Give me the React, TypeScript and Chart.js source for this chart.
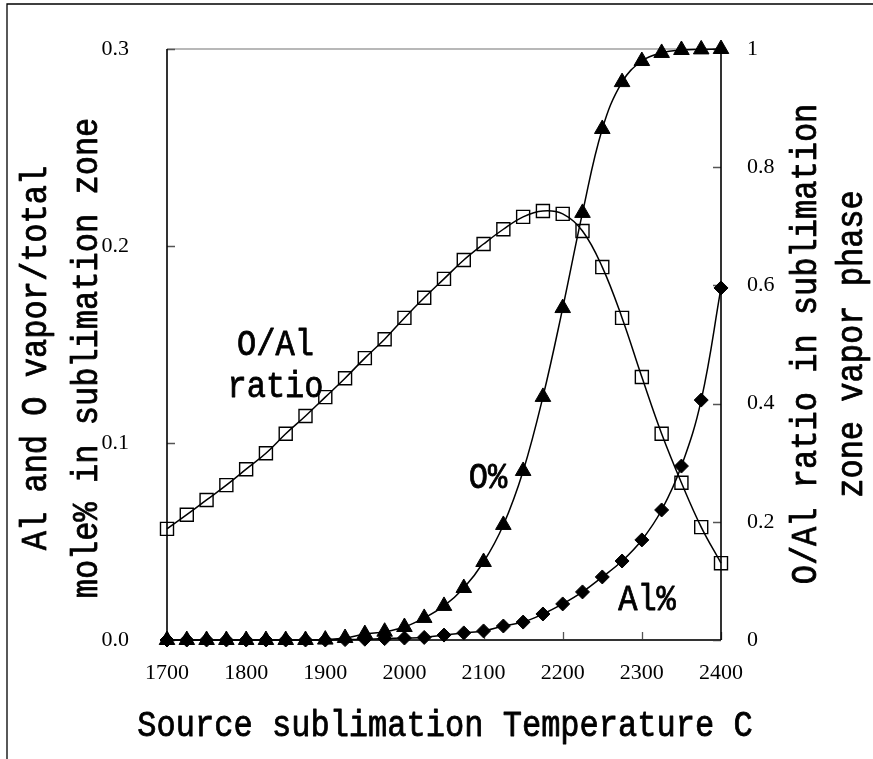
import React, { useEffect, useRef } from "react";
import { Chart, registerables } from "chart.js";

Chart.register(...registerables);

const temperatures = [
  1700, 1725, 1750, 1775, 1800, 1825, 1850, 1875, 1900, 1925, 1950, 1975, 2000, 2025, 2050,
  2075, 2100, 2125, 2150, 2175, 2200, 2225, 2250, 2275, 2300, 2325, 2350, 2375, 2400,
];
// O/Al ratio (right axis)
const oAlRatio = [
  0.188, 0.212, 0.237, 0.262, 0.289, 0.316, 0.349, 0.379, 0.411, 0.443, 0.477, 0.509, 0.545,
  0.579, 0.611, 0.643, 0.67, 0.695, 0.716, 0.726, 0.721, 0.692, 0.631, 0.545, 0.445, 0.349,
  0.266, 0.191, 0.13,
];
// O mole fraction (left axis)
const oPercent = [
  0, 0, 0, 0, 0, 0, 0, 0, 0.0002, 0.001, 0.003, 0.0042, 0.0066, 0.0112, 0.0173, 0.0264, 0.0396,
  0.0584, 0.0858, 0.1234, 0.1685, 0.2168, 0.2594, 0.2832, 0.2939, 0.298, 0.2995, 0.2998, 0.3,
];
// Al mole fraction (left axis)
const alPercent = [
  0, 0, 0, 0, 0, 0, 0, 0, 0, 0.0002, 0.0004, 0.0007, 0.001, 0.0013, 0.0025, 0.0036, 0.0046,
  0.0071, 0.0091, 0.0132, 0.0183, 0.0244, 0.032, 0.0401, 0.0508, 0.066, 0.0883, 0.1218, 0.1787,
];

const xTicks = [1700, 1800, 1900, 2000, 2100, 2200, 2300, 2400];
const leftTicks = [0, 0.1, 0.2, 0.3];
const rightTicks = [0, 0.2, 0.4, 0.6, 0.8, 1];

const xTitle = "Source sublimation Temperature C";
const leftTitle = ["Al and O vapor/total", "mole% in sublimation zone"];
const rightTitle = ["O/Al ratio in sublimation", "zone vapor phase"];
const ratioLabel = ["O/Al", "ratio"];
const oLabel = "O%";
const alLabel = "Al%";

const W = 873;
const H = 759;
const TITLE_FONT = '"Liberation Mono", monospace';
const TITLE_SIZE = 36;
const TITLE_SX = 0.89;

function drawText(
  ctx: CanvasRenderingContext2D,
  text: string,
  x: number,
  y: number,
  rotate: boolean
) {
  ctx.save();
  ctx.translate(x, y);
  if (rotate) ctx.rotate(-Math.PI / 2);
  ctx.scale(TITLE_SX, 1);
  ctx.font = `${TITLE_SIZE}px ${TITLE_FONT}`;
  ctx.textAlign = "center";
  ctx.textBaseline = "alphabetic";
  ctx.fillStyle = "#000";
  ctx.strokeStyle = "#000";
  ctx.lineWidth = 0.8;
  ctx.lineJoin = "round";
  ctx.fillText(text, 0, 0);
  ctx.strokeText(text, 0, 0);
  ctx.restore();
}

const framePlugin = {
  id: "frame",
  beforeDatasetsDraw(chart: any) {
    const { ctx, chartArea: a, scales } = chart;
    ctx.save();
    // outer picture border (left and top)
    ctx.strokeStyle = "#000";
    ctx.lineWidth = 1.3;
    ctx.beginPath();
    ctx.moveTo(7, H);
    ctx.lineTo(7, 4);
    ctx.lineTo(W, 4);
    ctx.stroke();

    // top of plot area (grey)
    ctx.strokeStyle = "#a0a0a0";
    ctx.lineWidth = 1.5;
    ctx.beginPath();
    ctx.moveTo(a.left, a.top);
    ctx.lineTo(a.right, a.top);
    ctx.stroke();

    // tick marks, inside
    ctx.strokeStyle = "#555";
    ctx.lineWidth = 1.3;
    ctx.beginPath();
    leftTicks.forEach((v) => {
      const y = Math.round(scales.y.getPixelForValue(v)) + 0.5;
      ctx.moveTo(a.left, y);
      ctx.lineTo(a.left + 8, y);
    });
    rightTicks.forEach((v) => {
      const y = Math.round(scales.y1.getPixelForValue(v)) + 0.5;
      ctx.moveTo(a.right, y);
      ctx.lineTo(a.right - 8, y);
    });
    xTicks.forEach((v) => {
      const x = Math.round(scales.x.getPixelForValue(v)) + 0.5;
      ctx.moveTo(x, a.bottom);
      ctx.lineTo(x, a.bottom - 8);
    });
    ctx.stroke();

    // axes
    ctx.strokeStyle = "#333";
    ctx.lineWidth = 2;
    ctx.beginPath();
    ctx.moveTo(a.left, a.bottom);
    ctx.lineTo(a.right, a.bottom);
    ctx.stroke();
    ctx.strokeStyle = "#000";
    ctx.lineWidth = 1.6;
    ctx.beginPath();
    ctx.moveTo(a.left, a.top);
    ctx.lineTo(a.left, a.bottom);
    ctx.moveTo(a.right, a.top);
    ctx.lineTo(a.right, a.bottom);
    ctx.stroke();
    ctx.restore();
  },
  afterDraw(chart: any) {
    const { ctx } = chart;
    drawText(ctx, xTitle, 445, 736, false);
    drawText(ctx, leftTitle[0], 46, 358, true);
    drawText(ctx, leftTitle[1], 97, 358, true);
    drawText(ctx, rightTitle[0], 816, 344, true);
    drawText(ctx, rightTitle[1], 862, 344, true);
    drawText(ctx, ratioLabel[0], 275.5, 355, false);
    drawText(ctx, ratioLabel[1], 275.5, 397, false);
    drawText(ctx, oLabel, 488, 488, false);
    drawText(ctx, alLabel, 647, 610, false);
  },
};

export default function App() {
  const ref = useRef<HTMLCanvasElement | null>(null);

  useEffect(() => {
    if (!ref.current) return;
    const tickFont = { family: '"Liberation Serif", serif', size: 22 };
    const chart = new Chart(ref.current, {
      type: "line",
      data: {
        datasets: [
          {
            label: "O/Al ratio",
            data: temperatures.map((t, i) => ({ x: t, y: oAlRatio[i] })),
            yAxisID: "y1",
            borderColor: "#000",
            borderWidth: 1.5,
            tension: 0.4,
            pointStyle: "rect",
            pointRadius: 9.2,
            pointBackgroundColor: "rgba(0,0,0,0)",
            pointBorderColor: "#000",
            pointBorderWidth: 1.4,
            clip: false,
          },
          {
            label: "O%",
            data: temperatures.map((t, i) => ({ x: t, y: oPercent[i] })),
            yAxisID: "y",
            borderColor: "#000",
            borderWidth: 1.5,
            tension: 0.4,
            pointStyle: "triangle",
            pointRadius: 9,
            pointBackgroundColor: "#000",
            pointBorderColor: "#000",
            pointBorderWidth: 1,
            clip: false,
          },
          {
            label: "Al%",
            data: temperatures.map((t, i) => ({ x: t, y: alPercent[i] })),
            yAxisID: "y",
            borderColor: "#000",
            borderWidth: 1.5,
            tension: 0.4,
            pointStyle: "rectRot",
            pointRadius: 7,
            pointBackgroundColor: "#000",
            pointBorderColor: "#000",
            pointBorderWidth: 1,
            clip: false,
          },
        ],
      },
      options: {
        animation: false,
        responsive: false,
        devicePixelRatio: 1,
        layout: { padding: { top: 49, left: 0, right: 0, bottom: 0 } },
        plugins: { legend: { display: false }, tooltip: { enabled: false } },
        events: [],
        scales: {
          x: {
            type: "linear",
            min: 1700,
            max: 2400,
            grid: { display: false },
            border: { display: false },
            afterBuildTicks: (s: any) => {
              s.ticks = xTicks.map((v) => ({ value: v }));
            },
            afterFit: (s: any) => {
              s.height = H - 640;
            },
            ticks: {
              font: tickFont,
              color: "#000",
              padding: 12,
              maxRotation: 0,
              autoSkip: false,
              callback: (v: any) => String(v),
            },
          },
          y: {
            type: "linear",
            position: "left",
            min: 0,
            max: 0.3,
            grid: { display: false },
            border: { display: false },
            afterBuildTicks: (s: any) => {
              s.ticks = leftTicks.map((v) => ({ value: v }));
            },
            afterFit: (s: any) => {
              s.width = 167;
            },
            ticks: {
              font: tickFont,
              color: "#000",
              padding: 30,
              callback: (v: any) => Number(v).toFixed(1),
            },
          },
          y1: {
            type: "linear",
            position: "right",
            min: 0,
            max: 1,
            grid: { display: false },
            border: { display: false },
            afterBuildTicks: (s: any) => {
              s.ticks = rightTicks.map((v) => ({ value: v }));
            },
            afterFit: (s: any) => {
              s.width = W - 721;
            },
            ticks: {
              font: tickFont,
              color: "#000",
              padding: 18,
              callback: (v: any) => String(v),
            },
          },
        },
      },
      plugins: [framePlugin],
    });
    return () => chart.destroy();
  }, []);

  return (
    <div style={{ position: "fixed", left: 0, top: 0, width: W, height: H, background: "#fff" }}>
      <canvas ref={ref} width={W} height={H} style={{ display: "block", width: W, height: H }} />
    </div>
  );
}
